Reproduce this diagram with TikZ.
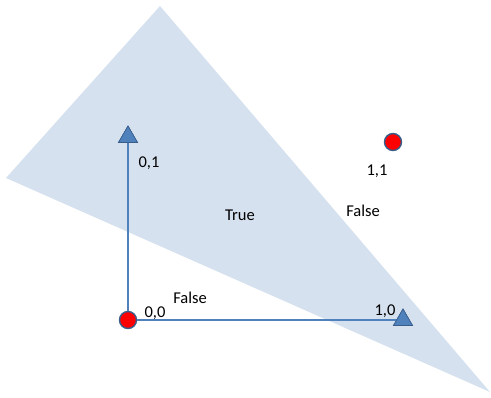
\documentclass[tikz,border=0pt]{standalone}
\usepackage{fontspec}
\setmainfont{Carlito}
\usetikzlibrary{shapes.geometric}
\definecolor{wedgeblue}{RGB}{214,225,239}
\definecolor{axisblue}{RGB}{79,129,189}
\definecolor{rim}{RGB}{56,93,138}
\tikzset{
  axisline/.style={axisblue, line width=1.8pt},
  tip/.style={regular polygon, regular polygon sides=3, fill=axisblue, draw=rim,
    line width=0.6pt, inner sep=0pt, minimum size=22pt},
  dot/.style={circle, fill=red, draw=rim, line width=1.4pt, inner sep=0pt,
    minimum size=17pt},
  lbl/.style={font=\fontsize{16.5}{18}\selectfont, inner sep=0pt}
}
\begin{document}
\begin{tikzpicture}[x=1pt, y=-1pt]
    \useasboundingbox (0,0) rectangle (491,398);
    \fill[wedgeblue] (160,6) -- (6,178) -- (490,392) -- cycle;
    \coordinate (O) at (128,320);
    \node[tip] (Y) at (128,137) {};
    \node[tip] (X) at (403,320) {};
    \draw[axisline] (O) -- (Y.center);
    \draw[axisline] (O) -- (X.center);
    \node[tip] at (Y) {};
    \node[tip] at (X) {};
    \node[dot] (P00) at (O) {};
    \node[dot] (P11) at (393,142) {};
    \node[lbl] (L01) at (149,163) {0,1};
    \node[lbl] (L11) at (377,171) {1,1};
    \node[lbl] (L00) at (155,313) {0,0};
    \node[lbl] (L10) at (385,311) {1,0};
    \node[lbl] (T) at (240,215) {True};
    \node[lbl] (F1) at (363,211) {False};
    \node[lbl] (F2) at (190,298) {False};
\end{tikzpicture}
\end{document}
